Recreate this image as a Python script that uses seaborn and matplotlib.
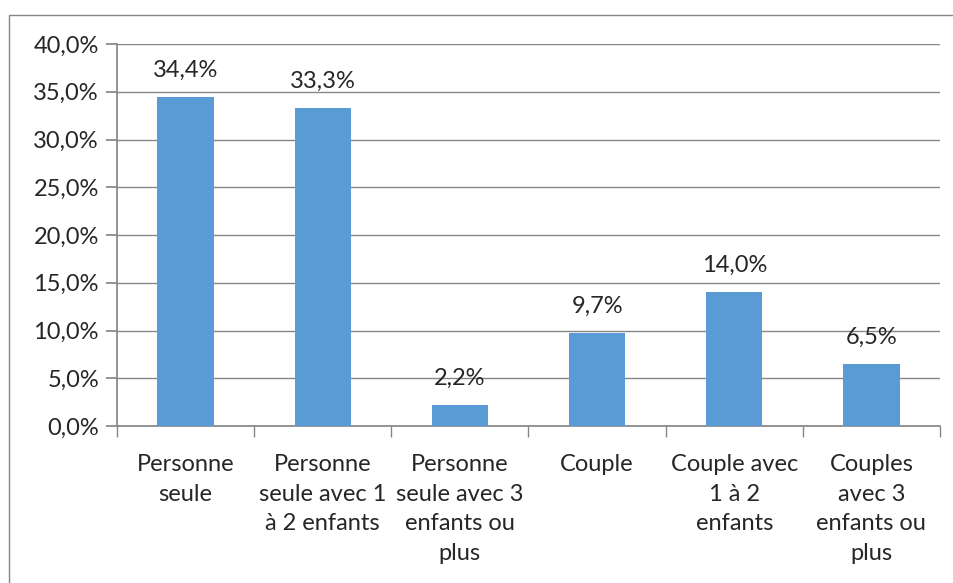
import seaborn as sns
import matplotlib.pyplot as plt
import pandas as pd
from matplotlib.patches import Rectangle
from matplotlib.ticker import FuncFormatter, MultipleLocator

categories = [
    "Personne\nseule",
    "Personne\nseule avec 1\nà 2 enfants",
    "Personne\nseule avec 3\nenfants ou\nplus",
    "Couple",
    "Couple avec\n1 à 2\nenfants",
    "Couples\navec 3\nenfants ou\nplus",
]
values = [34.4, 33.3, 2.2, 9.7, 14.0, 6.5]

df = pd.DataFrame({"cat": categories, "val": values})

sns.set_theme(style="white")
plt.rcParams["font.family"] = ["Lato", "DejaVu Sans"]

fig = plt.figure(figsize=(9.54, 5.83), dpi=100)
ax = fig.add_axes([117 / 954, 1 - 426 / 583, (940 - 117) / 954, (426 - 44) / 583])

sns.barplot(data=df, x="cat", y="val", color="#5B9BD5", width=0.41,
            saturation=1, ax=ax, zorder=3, linewidth=0)

ax.set_ylim(0, 40)
ax.set_xlim(-0.5, len(categories) - 0.5)
ax.yaxis.set_major_locator(MultipleLocator(5))
ax.yaxis.set_major_formatter(FuncFormatter(lambda v, p: f"{v:.1f}%".replace(".", ",")))
ax.grid(axis="y", color="#868686", linewidth=1, zorder=0)
ax.set_xlabel("")
ax.set_ylabel("")

for s in ["top", "right"]:
    ax.spines[s].set_visible(False)
ax.spines["left"].set_color("#868686")
ax.spines["bottom"].set_color("#868686")

# category ticks sit between bars, value ticks stick out to the left
ax.set_xticks(range(len(categories)))
ax.set_xticklabels(categories, fontsize=17, linespacing=1.52, va="top")
ax.tick_params(axis="x", length=0, pad=20)
ax.set_xticks([i - 0.5 for i in range(len(categories) + 1)], minor=True)
ax.tick_params(axis="x", which="minor", length=8, color="#868686", direction="out", bottom=True)
ax.tick_params(axis="y", length=8, color="#868686", direction="out", labelsize=17, pad=5, left=True)

for i, v in enumerate(values):
    ax.text(i, v + 1.7, f"{v:.1f}%".replace(".", ","), ha="center", va="bottom", fontsize=17)

fig.patches.append(Rectangle((9.5 / 954, -0.5), 2, 1.5 - 14.5 / 583,
                             transform=fig.transFigure, fill=False,
                             edgecolor="#868686", linewidth=1))

fig.savefig("out.png", dpi=100)
